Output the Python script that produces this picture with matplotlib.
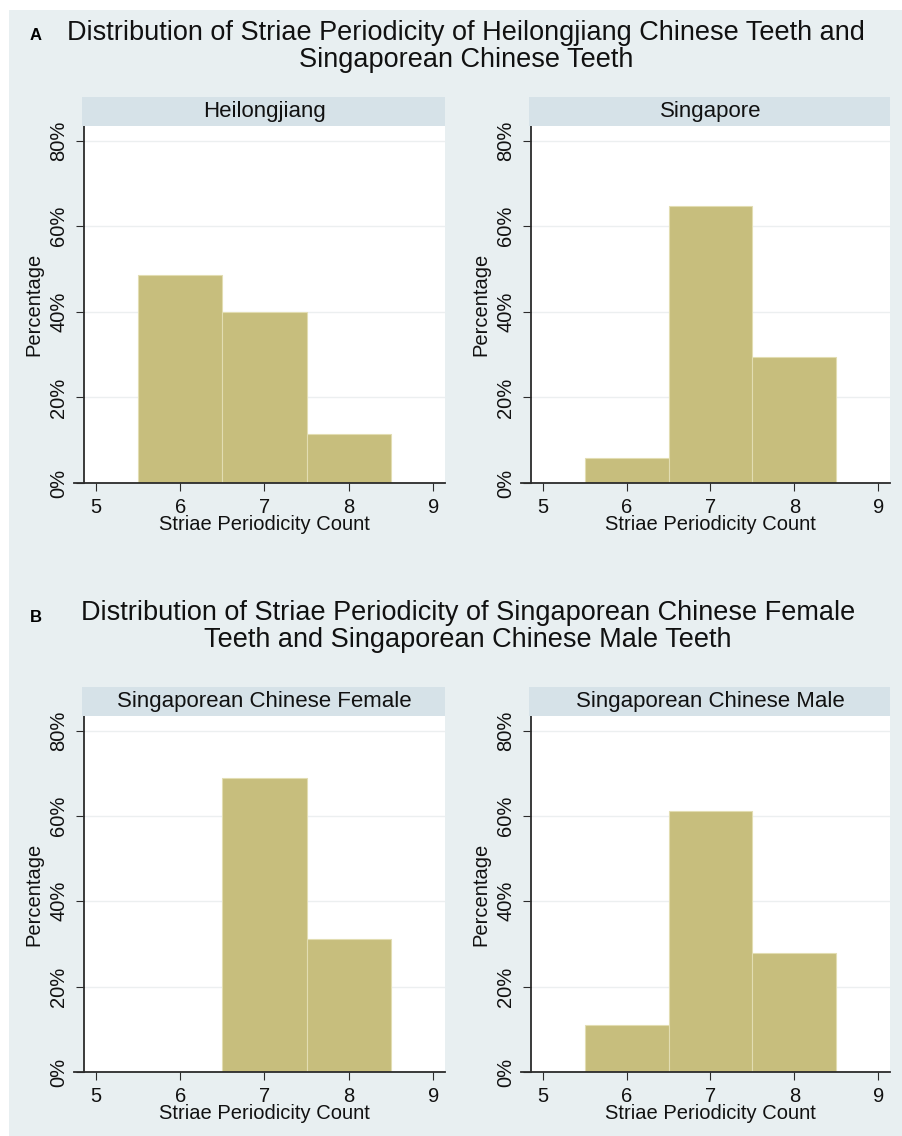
import matplotlib
matplotlib.use("Agg")
import matplotlib.pyplot as plt
from matplotlib.patches import Rectangle
from matplotlib.lines import Line2D

plt.rcParams['font.family'] = ['Liberation Sans', 'DejaVu Sans']

# striae periodicity counts and the share of teeth (%) in each group
counts = [6, 7, 8]
heilongjiang = [48.6, 40.0, 11.4]
singapore = [5.9, 64.7, 29.4]
sg_female = [0.0, 68.8, 31.2]
sg_male = [11.1, 61.1, 27.8]

x_ticks = [5, 6, 7, 8, 9]
y_ticks = [0, 20, 40, 60, 80]
y_labels = ['0%', '20%', '40%', '60%', '80%']

title_a = ("Distribution of Striae Periodicity of Heilongjiang Chinese Teeth and\n"
           "Singaporean Chinese Teeth")
title_b = ("Distribution of Striae Periodicity of Singaporean Chinese Female\n"
           "Teeth and Singaporean Chinese Male Teeth")

BG = '#e8eff1'
STRIP = '#d6e2e8'
BAR = '#c7be7d'
AXIS = '#2b2b2b'

W, H = 903, 1136
fig = plt.figure(figsize=(W / 100, H / 100), dpi=100)
fig.patch.set_facecolor(BG)

# thin white margin on the top and left edges
fig.patches.append(Rectangle((0, 1 - 10 / H), 1, 10 / H, transform=fig.transFigure,
                             facecolor='white', edgecolor='none'))
fig.patches.append(Rectangle((0, 0), 9 / W, 1, transform=fig.transFigure,
                             facecolor='white', edgecolor='none'))


def panel(x0, x1, y0, y1, values, name):
    # x0..x1, y0..y1 are pixel edges of the plot region (y from the top)
    ax = fig.add_axes([x0 / W, 1 - y1 / H, (x1 - x0) / W, (y1 - y0) / H])
    ax.set_facecolor('white')
    ax.bar(counts, values, width=1.0, color=BAR, edgecolor='#e2ddb2',
           linewidth=0.8, zorder=2)
    ax.set_xlim(4.86, 9.14)
    ax.set_ylim(0, 83.4)
    ax.set_xticks(x_ticks)
    ax.set_yticks(y_ticks)
    ax.set_yticklabels(y_labels, rotation=90, va='center')
    for v in y_ticks[1:]:
        ax.axhline(v, color='#eceff0', lw=1.0, zorder=1)
    for s in ['top', 'right', 'bottom']:
        ax.spines[s].set_visible(False)
    ax.spines['left'].set_color(AXIS)
    ax.spines['left'].set_linewidth(1.3)
    # x axis line runs a little past the y axis
    ax.add_line(Line2D([-10 / (x1 - x0), 1], [0, 0], transform=ax.transAxes,
                       color=AXIS, lw=1.3, clip_on=False, zorder=3))
    ax.tick_params(axis='both', direction='out', length=5.5, width=0.8,
                   color=AXIS, labelsize=14.5, labelcolor='#111111')
    ax.tick_params(axis='x', pad=5)
    ax.tick_params(axis='y', pad=6)
    ax.set_xlabel('Striae Periodicity Count', fontsize=14.5, labelpad=-1,
                  color='#111111')
    ax.set_ylabel('Percentage', fontsize=14.5, labelpad=4, color='#111111')
    # facet strip
    sh = 29.5
    fig.patches.append(Rectangle((x0 / W - 2 / W, 1 - y0 / H), (x1 - x0 + 2) / W, sh / H,
                                 transform=fig.transFigure, facecolor=STRIP,
                                 edgecolor='none'))
    fig.text((x0 + x1) / 2 / W, 1 - (y0 - sh / 2) / H, name, ha='center',
             va='center', fontsize=16, color='#111111')
    return ax


panel(84, 445, 126, 483, heilongjiang, 'Heilongjiang')
panel(531, 890, 126, 483, singapore, 'Singapore')
panel(84, 445, 716, 1072, sg_female, 'Singaporean Chinese Female')
panel(531, 890, 716, 1072, sg_male, 'Singaporean Chinese Male')

fig.text(36 / W, 1 - 36 / H, 'A', fontsize=12, fontweight='bold', ha='center',
         va='center')
fig.text(466 / W, 1 - 20 / H, title_a, fontsize=19.5, ha='center', va='top',
         linespacing=1.05, multialignment='center', color='#111111')
fig.text(36 / W, 1 - 617 / H, 'B', fontsize=12, fontweight='bold', ha='center',
         va='center')
fig.text(468 / W, 1 - 600 / H, title_b, fontsize=19.5, ha='center', va='top',
         linespacing=1.05, multialignment='center', color='#111111')

fig.savefig('out.png', dpi=100, facecolor=fig.get_facecolor())
